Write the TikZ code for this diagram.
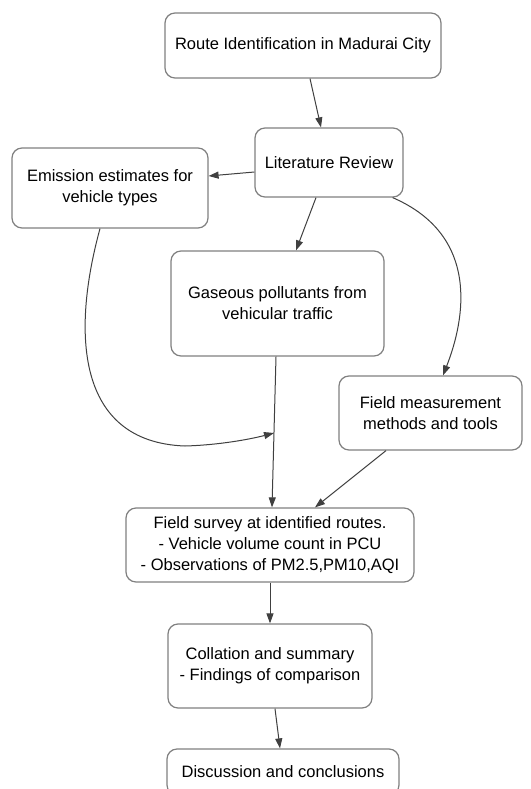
\documentclass[tikz,border=0pt]{standalone}
\usepackage{fontspec}
\setmainfont{Liberation Sans}
\usetikzlibrary{arrows.meta}

\begin{document}
\begin{tikzpicture}[
				x=1pt, y=1pt,
				box/.style={draw=black!50, line width=1.2pt, rounded corners=10pt, align=center, inner sep=0pt, font=\fontsize{16.5}{21}\selectfont},
				arr/.style={draw=black!75, line width=1pt, -{Triangle[length=10pt,width=7pt]}}
				]
			\fill [white] (0,0) rectangle (530,-789);
			\clip (0,0) rectangle (530,-789);
			\node [box, minimum width=276, minimum height=65] (route) at (303,-45.5) {Route Identification in Madurai City};
			\node [box, minimum width=148, minimum height=69] (lit) at (329,-162.5) {Literature Review};
			\node [box, minimum width=196, minimum height=80] (emis) at (110,-188) {Emission estimates for\\vehicle types};
			\node [box, minimum width=213, minimum height=105] (gas) at (277.5,-303.5) {Gaseous pollutants from\\vehicular traffic};
			\node [box, minimum width=183, minimum height=74] (meas) at (430.5,-413) {Field measurement\\methods and tools};
			\node [box, minimum width=288, minimum height=74] (survey) at (270,-545) {Field survey at identified routes.\\- Vehicle volume count in PCU\\- Observations of PM2.5,PM10,AQI};
			\node [box, minimum width=204, minimum height=84] (coll) at (270,-666) {Collation and summary\\- Findings of comparison};
			\node [box, minimum width=232, minimum height=46] (disc) at (283,-772) {Discussion and conclusions};
			\coordinate (join) at (274,-433);
			\draw [arr] ([xshift=7]route.south) -- ([xshift=-8]lit.north);
			\draw [arr] ([yshift=-9.5]lit.west) -- ([yshift=12]emis.east);
			\draw [arr] ([xshift=-13]lit.south) -- ([xshift=18.5]gas.north);
			\draw [arr] ([xshift=-11]lit.south east) .. controls +(88,-38) and +(22,56) .. ([xshift=12.5]meas.north);
			\draw [arr] ([xshift=-10]emis.south) .. controls +(-28,-102) and +(-110,4) .. (185,-446) .. controls +(35,1) and +(-23,-6) .. (join);
			\draw [arr] ([xshift=-1.5]gas.south) -- ([xshift=2]survey.north);
			\draw [arr] ([xshift=-44.5]meas.south) -- ([xshift=45]survey.north);
			\draw [arr] (survey.south) -- (coll.north);
			\draw [arr] ([xshift=5]coll.south) -- ([xshift=-3]disc.north);
			\end{tikzpicture}
\end{document}
